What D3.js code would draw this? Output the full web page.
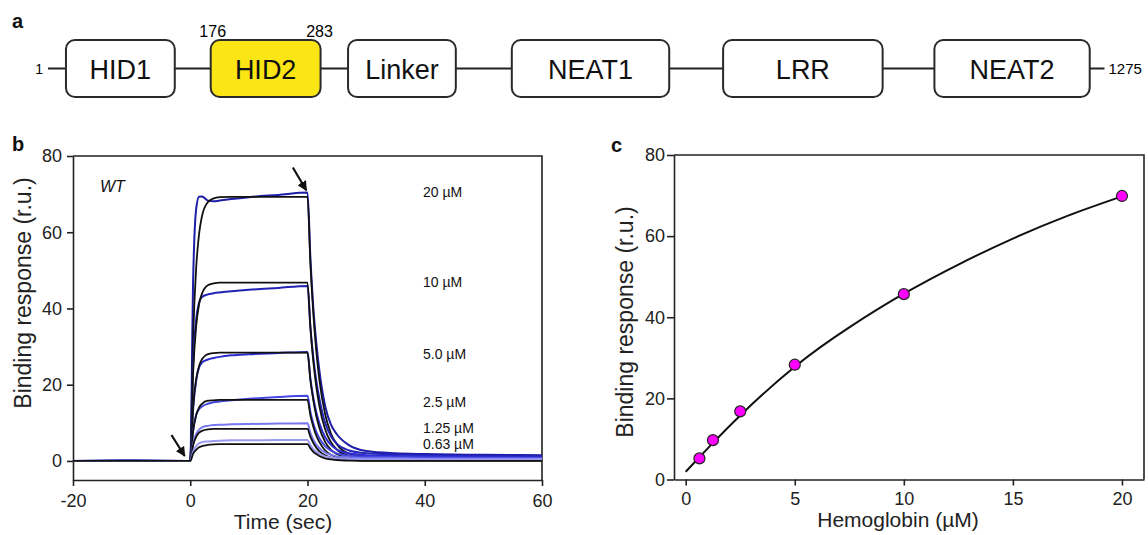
<!DOCTYPE html>
<html lang="en">
<head>
<meta charset="UTF-8">
<script src="https://cdn.jsdelivr.net/npm/d3@7"></script>
<style>
  body { margin:0; background:#fff; }
  svg { display:block; font-family:"Liberation Sans", Arial, sans-serif; }
  .axis path, .axis line { stroke:#222; stroke-width:1.6; }
  .axis text { font-size:18px; fill:#222; font-family:"Liberation Sans", Arial, sans-serif; }
  .title { font-size:21px; fill:#222; }
  .ytitle { font-size:23px; fill:#222; }
  .plabel { font-size:20px; font-weight:bold; fill:#111; }
</style>
</head>
<body>
<svg width="1148" height="535"></svg>
<script>
// ---------- panel a: domain map (schematic units 0..1000 along the chain line)
var domainNames = ["HID1", "HID2", "Linker", "NEAT1", "LRR", "NEAT2"];
var domainStart = [17, 154, 284, 439, 639, 839];
var domainEnd   = [120, 258, 386, 588, 790, 986];
var highlighted = "HID2";
var residueLabels = ["1", "176", "283", "1275"];

// ---------- panel b: sensorgrams (time in sec, response in r.u.)
var time = [-20, -10, 0, 0.5, 1, 1.5, 2, 3, 4, 5, 7, 10, 15, 20, 20.5, 21, 21.5, 22, 23, 24, 25, 27, 30, 35, 40, 50, 60];
var concLabels = ["20 µM", "10 µM", "5.0 µM", "2.5 µM", "1.25 µM", "0.63 µM"];
var labelLevel = [69.3, 45.6, 26.8, 14.2, 7.3, 3.1];
var dataColors = ["#1d1da6", "#2222b4", "#2c2cd0", "#4646e0", "#7878ee", "#9a9af2"];

var measured20  = [0,0.1,0,48,66,69.3,69.4,68.3,68.1,68.3,68.7,69.2,69.8,70.4,53,40,31,24,14.5,9.5,7,4.2,2.6,2.0,1.8,1.6,1.5];
var measured10  = [0,0.1,0,26,37,41.5,43,43.7,44,44.2,44.5,44.9,45.4,45.9,35,27,21,16.5,10,6.5,4.5,2.8,2.0,1.7,1.5,1.4,1.3];
var measured5   = [0,0,0,14,21,24.5,25.8,26.6,27,27.3,27.7,28,28.3,28.6,21.5,16.5,12.8,10,6.3,4.2,3.0,2.0,1.5,1.3,1.2,1.1,1.0];
var measured2_5 = [0,0,0,8,12,13.6,14.3,15,15.4,15.6,15.9,16.3,16.8,17.1,12.8,9.8,7.6,6.0,3.9,2.7,2.0,1.4,1.1,1.0,0.9,0.8,0.8];
var measured1_25= [0,0,0,4.5,7,8.2,8.8,9.2,9.4,9.5,9.6,9.7,9.8,9.9,7.3,5.6,4.3,3.4,2.2,1.6,1.2,0.9,0.7,0.7,0.6,0.6,0.6];
var measured0_63= [0,0,0,2.5,3.9,4.6,4.9,5.1,5.2,5.3,5.4,5.4,5.5,5.5,4.1,3.1,2.4,1.9,1.2,0.9,0.7,0.5,0.4,0.4,0.4,0.4,0.4];

var fit20  = [0,0,0,33.1,50.4,59.5,64.2,67.9,68.9,69.2,69.3,69.3,69.3,69.3,51.6,38.5,28.8,21.6,12.3,7.2,4.4,2.0,1.2,1.0,1.0,1.0,1.0];
var fit10  = [0,0,0,23.5,35.2,41.1,43.9,46.1,46.6,46.8,46.8,46.8,46.8,46.8,34.9,26.0,19.5,14.6,8.3,4.9,3.0,1.4,0.8,0.7,0.7,0.7,0.7];
var fit5   = [0,0,0,14.3,21.4,24.9,26.7,28.0,28.3,28.4,28.4,28.4,28.4,28.4,21.1,15.8,11.8,8.8,5.0,2.9,1.8,0.8,0.5,0.4,0.4,0.4,0.4];
var fit2_5 = [0,0,0,8.0,12.0,14.0,15.0,15.8,15.9,16.0,16.0,16.0,16.0,16.0,11.9,8.9,6.6,5.0,2.8,1.6,1.0,0.4,0.2,0.2,0.2,0.2,0.2];
var fit1_25= [0,0,0,4.2,6.3,7.4,7.9,8.3,8.4,8.4,8.4,8.4,8.4,8.4,6.3,4.7,3.5,2.6,1.5,0.9,0.5,0.2,0.1,0.1,0.1,0.1,0.1];
var fit0_63= [0,0,0,1.9,2.9,3.6,3.9,4.2,4.35,4.4,4.4,4.4,4.4,4.4,3.3,2.4,1.8,1.3,0.7,0.4,0.2,0.1,0,0,0,0,0];

var measured = [measured20, measured10, measured5, measured2_5, measured1_25, measured0_63];
var fitted = [fit20, fit10, fit5, fit2_5, fit1_25, fit0_63];

// ---------- panel c: steady-state binding
var hbConc = [0.63, 1.25, 2.5, 5, 10, 20];
var hbResponse = [5.2, 9.7, 16.8, 28.3, 45.7, 69.9];
var curveConc = [0, 1, 2.5, 5, 7.5, 10, 12.5, 15, 17.5, 20];
var curveResponse = [1.9, 7.6, 15.8, 27.8, 37.5, 45.8, 53.0, 59.4, 65.0, 69.8];

var svg = d3.select("svg");
var plain = function(d) { return String(d); };

svg.append("defs").append("marker")
  .attr("id", "head")
  .attr("viewBox", "0 0 10 10")
  .attr("refX", 9).attr("refY", 5)
  .attr("markerWidth", 4.5).attr("markerHeight", 4.5)
  .attr("markerUnits", "strokeWidth")
  .attr("orient", "auto")
  .append("path").attr("d", "M0,0 L10,5 L0,10 z").attr("fill", "#111");

// ================= panel a
var xa = d3.scaleLinear().domain([0, 1000]).range([48, 1104.5]);
var boxTop = 40, boxBot = 97, lineY = 68.5;
var ga = svg.append("g");

ga.append("line")
  .attr("x1", xa(0)).attr("x2", xa(1000))
  .attr("y1", lineY).attr("y2", lineY)
  .attr("stroke", "#222").attr("stroke-width", 2);

var dom = ga.selectAll("g.dom").data(domainNames).enter().append("g").attr("class", "dom");
dom.append("rect")
  .attr("x", function(d, i) { return xa(domainStart[i]); })
  .attr("width", function(d, i) { return xa(domainEnd[i]) - xa(domainStart[i]); })
  .attr("y", boxTop).attr("height", boxBot - boxTop)
  .attr("rx", 9).attr("ry", 9)
  .attr("fill", function(d) { return d == highlighted ? "#fce514" : "#fff"; })
  .attr("stroke", "#2a2a2a").attr("stroke-width", 2);
dom.append("text")
  .attr("x", function(d, i) { return (xa(domainStart[i]) + xa(domainEnd[i])) / 2; })
  .attr("y", lineY + 10)
  .attr("text-anchor", "middle")
  .style("font-size", "27px").attr("fill", "#111")
  .text(function(d) { return d; });

var hi = domainNames.indexOf(highlighted);
ga.append("text").attr("x", xa(0) - 5).attr("y", lineY + 5).attr("text-anchor", "end")
  .style("font-size", "14px").text(residueLabels[0]);
ga.append("text").attr("x", xa(domainStart[hi]) + 2).attr("y", 37).attr("text-anchor", "middle")
  .style("font-size", "16px").text(residueLabels[1]);
ga.append("text").attr("x", xa(domainEnd[hi]) - 1).attr("y", 37).attr("text-anchor", "middle")
  .style("font-size", "16px").text(residueLabels[2]);
ga.append("text").attr("x", xa(1000) + 4).attr("y", lineY + 5)
  .style("font-size", "15px").text(residueLabels[3]);

svg.append("text").attr("class", "plabel").attr("x", 12).attr("y", 28).text("a");

// ================= panel b
var xb = d3.scaleLinear().domain([-20, 60]).range([73, 542]);
var yb = d3.scaleLinear().domain([-5, 80]).range([480, 156]);
var gb = svg.append("g");

gb.append("clipPath").attr("id", "clipb").append("rect")
  .attr("x", xb(-20)).attr("y", yb(80)).attr("width", xb(60) - xb(-20)).attr("height", yb(-5) - yb(80));

gb.append("g").attr("class", "axis")
  .attr("transform", "translate(0," + yb(-5) + ")")
  .call(d3.axisBottom(xb).tickValues([-20, 0, 20, 40, 60]).tickFormat(plain).tickSize(6).tickPadding(8).tickSizeOuter(0));
gb.append("g").attr("class", "axis")
  .attr("transform", "translate(" + xb(-20) + ",0)")
  .call(d3.axisLeft(yb).tickValues([0, 20, 40, 60, 80]).tickFormat(plain).tickSize(6).tickPadding(5).tickSizeOuter(0));
gb.append("path")
  .attr("d", "M" + xb(-20) + "," + yb(80) + "H" + xb(60) + "V" + yb(-5))
  .attr("fill", "none").attr("stroke", "#222").attr("stroke-width", 1.6);

var lineB = d3.line().curve(d3.curveMonotoneX);
var curves = gb.append("g").attr("clip-path", "url(#clipb)");
measured.forEach(function(vals, k) {
  curves.append("path")
    .attr("d", lineB(time.map(function(t, i) { return [xb(t), yb(vals[i])]; })))
    .attr("fill", "none").attr("stroke", dataColors[k]).attr("stroke-width", 2);
  curves.append("path")
    .attr("d", lineB(time.map(function(t, i) { return [xb(t), yb(fitted[k][i])]; })))
    .attr("fill", "none").attr("stroke", "#111").attr("stroke-width", 1.8);
});

gb.selectAll("text.conc").data(concLabels).enter().append("text")
  .attr("class", "conc")
  .attr("x", xb(39.7)).attr("y", function(d, i) { return yb(labelLevel[i]); })
  .style("font-size", "14px").attr("fill", "#111")
  .text(function(d) { return d; });

gb.append("text").attr("x", xb(-15.4)).attr("y", yb(70.6))
  .style("font-size", "16px").style("font-style", "italic").attr("fill", "#111").text("WT");

// injection start / end arrows
[[-3.2, 6.8, -0.95, 1.3], [17.5, 77.0, 19.8, 71.0]].forEach(function(a) {
  gb.append("line")
    .attr("x1", xb(a[0])).attr("y1", yb(a[1])).attr("x2", xb(a[2])).attr("y2", yb(a[3]))
    .attr("stroke", "#111").attr("stroke-width", 2.2).attr("marker-end", "url(#head)");
});

gb.append("text").attr("class", "title")
  .attr("x", 283).attr("y", 529).attr("text-anchor", "middle").text("Time (sec)");
gb.append("text").attr("class", "ytitle")
  .attr("transform", "translate(31,293) rotate(-90)")
  .attr("text-anchor", "middle").text("Binding response (r.u.)");
svg.append("text").attr("class", "plabel").attr("x", 12).attr("y", 151).text("b");

// ================= panel c
var xc = d3.scaleLinear().domain([-0.536, 21.01]).range([674, 1144]);
var yc = d3.scaleLinear().domain([0, 80]).range([479.5, 155]);
var gc = svg.append("g");

gc.append("g").attr("class", "axis")
  .attr("transform", "translate(0," + yc(0) + ")")
  .call(d3.axisBottom(xc).tickValues([0, 5, 10, 15, 20]).tickFormat(plain).tickSize(6).tickPadding(7).tickSizeOuter(0));
gc.append("g").attr("class", "axis")
  .attr("transform", "translate(" + xc.range()[0] + ",0)")
  .call(d3.axisLeft(yc).tickValues([0, 20, 40, 60, 80]).tickFormat(plain).tickSize(7).tickPadding(2).tickSizeOuter(0));
gc.append("path")
  .attr("d", "M" + xc.range()[0] + "," + yc(80) + "H" + xc.range()[1] + "V" + yc(0))
  .attr("fill", "none").attr("stroke", "#222").attr("stroke-width", 1.6);

gc.append("path")
  .attr("d", d3.line().curve(d3.curveNatural)(curveConc.map(function(c, i) { return [xc(c), yc(curveResponse[i])]; })))
  .attr("fill", "none").attr("stroke", "#111").attr("stroke-width", 2);

gc.selectAll("circle").data(hbConc).enter().append("circle")
  .attr("cx", function(d) { return xc(d); })
  .attr("cy", function(d, i) { return yc(hbResponse[i]); })
  .attr("r", 5.5)
  .attr("fill", "#ff00ff").attr("stroke", "#222").attr("stroke-width", 1.2);

gc.append("text").attr("class", "title")
  .attr("x", 898).attr("y", 527).attr("text-anchor", "middle").text("Hemoglobin (µM)");
gc.append("text").attr("class", "ytitle")
  .attr("transform", "translate(633,322) rotate(-90)")
  .attr("text-anchor", "middle").text("Binding response (r.u.)");
svg.append("text").attr("class", "plabel").attr("x", 611).attr("y", 152).text("c");
</script>
</body>
</html>
